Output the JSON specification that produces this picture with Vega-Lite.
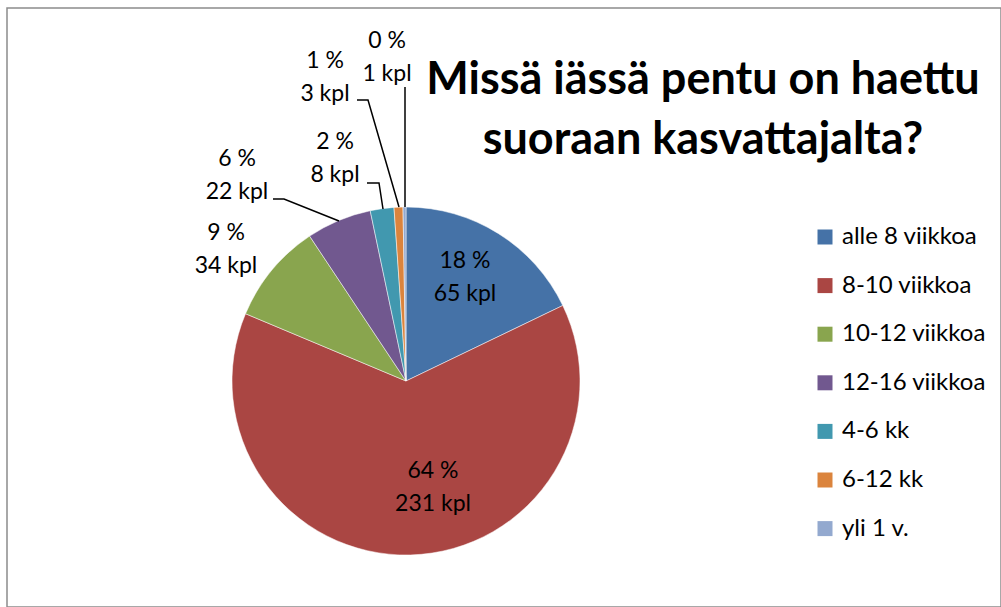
{
  "$schema": "https://vega.github.io/schema/vega-lite/v6.json",
  "width": 994,
  "height": 599,
  "autosize": {"type": "none"},
  "padding": {"left": 7, "top": 8, "right": 0, "bottom": 0},
  "background": "#ffffff",
  "config": {
    "view": {"stroke": "#8c8c8c", "strokeWidth": 1.5},
    "font": "Lato"
  },
  "title": {
    "text": ["Missä iässä pentu on haettu", "suoraan kasvattajalta?"],
    "font": "Lato",
    "fontSize": 45,
    "fontWeight": "bold",
    "color": "#000000",
    "anchor": "middle",
    "dx": 199,
    "baseline": "alphabetic",
    "offset": -191,
    "lineHeight": 60
  },
  "datasets": {
    "slices": [
      {"rank": 1, "ika": "alle 8 viikkoa", "n": 65},
      {"rank": 2, "ika": "8-10 viikkoa", "n": 231},
      {"rank": 3, "ika": "10-12 viikkoa", "n": 34},
      {"rank": 4, "ika": "12-16 viikkoa", "n": 22},
      {"rank": 5, "ika": "4-6 kk", "n": 8},
      {"rank": 6, "ika": "6-12 kk", "n": 3},
      {"rank": 7, "ika": "yli 1 v.", "n": 1}
    ],
    "callouts": [
      {"label": "18 %\n65 kpl", "lx": 59, "ly": 113},
      {"label": "64 %\n231 kpl", "lx": 27, "ly": -97},
      {"label": "9 %\n34 kpl", "lx": -180, "ly": 141},
      {"label": "6 %\n22 kpl", "lx": -169, "ly": 215},
      {"label": "2 %\n8 kpl", "lx": -71, "ly": 232},
      {"label": "1 %\n3 kpl", "lx": -81, "ly": 313},
      {"label": "0 %\n1 kpl", "lx": -19, "ly": 333}
    ],
    "leaders": [
      {"lead": "22 kpl", "step": 1, "lx": -133, "ly": 182},
      {"lead": "22 kpl", "step": 2, "lx": -122, "ly": 182},
      {"lead": "22 kpl", "step": 3, "lx": -67, "ly": 160},
      {"lead": "8 kpl", "step": 1, "lx": -39, "ly": 198},
      {"lead": "8 kpl", "step": 2, "lx": -27, "ly": 198},
      {"lead": "8 kpl", "step": 3, "lx": -23, "ly": 172},
      {"lead": "3 kpl", "step": 1, "lx": -49, "ly": 281},
      {"lead": "3 kpl", "step": 2, "lx": -38, "ly": 281},
      {"lead": "3 kpl", "step": 3, "lx": -7, "ly": 174},
      {"lead": "1 kpl", "step": 1, "lx": -1, "ly": 294},
      {"lead": "1 kpl", "step": 2, "lx": -1, "ly": 174}
    ]
  },
  "layer": [
    {
      "data": {"name": "slices"},
      "mark": {"type": "arc", "outerRadius": 174, "stroke": "#ffffff", "strokeWidth": 0.5},
      "encoding": {
        "x": {"datum": 0, "type": "quantitative", "scale": {"domain": [-399, 595], "nice": false, "zero": false}, "axis": null},
        "y": {"datum": 0, "type": "quantitative", "scale": {"domain": [-226, 373], "nice": false, "zero": false}, "axis": null},
        "theta": {"field": "n", "type": "quantitative", "stack": true},
        "order": {"field": "rank", "type": "quantitative"},
        "color": {
          "field": "ika",
          "type": "nominal",
          "scale": {
            "domain": ["alle 8 viikkoa", "8-10 viikkoa", "10-12 viikkoa", "12-16 viikkoa", "4-6 kk", "6-12 kk", "yli 1 v."],
            "range": ["#4572A7", "#AA4643", "#89A54E", "#71588F", "#4198AF", "#DB843D", "#93A9CF"]
          },
          "legend": {
            "title": null,
            "orient": "none",
            "legendX": 806,
            "legendY": 217,
            "padding": 0,
            "symbolType": "square",
            "symbolSize": 225,
            "symbolStrokeWidth": 0,
            "symbolOpacity": 1,
            "labelFont": "Lato",
            "labelFontSize": 24,
            "labelColor": "#000000",
            "labelOffset": 5,
            "rowPadding": 24.6,
            "labelLimit": 300
          }
        }
      }
    },
    {
      "data": {"name": "leaders"},
      "mark": {"type": "line", "color": "#000000", "strokeWidth": 1.5},
      "encoding": {
        "x": {"field": "lx", "type": "quantitative"},
        "y": {"field": "ly", "type": "quantitative"},
        "detail": {"field": "lead", "type": "nominal"},
        "order": {"field": "step", "type": "quantitative"}
      }
    },
    {
      "data": {"name": "callouts"},
      "mark": {"type": "text", "font": "Lato", "fontSize": 23, "color": "#000000", "align": "center", "baseline": "alphabetic", "lineBreak": "\n", "lineHeight": 33},
      "encoding": {
        "x": {"field": "lx", "type": "quantitative"},
        "y": {"field": "ly", "type": "quantitative"},
        "text": {"field": "label", "type": "nominal"}
      }
    }
  ]
}
